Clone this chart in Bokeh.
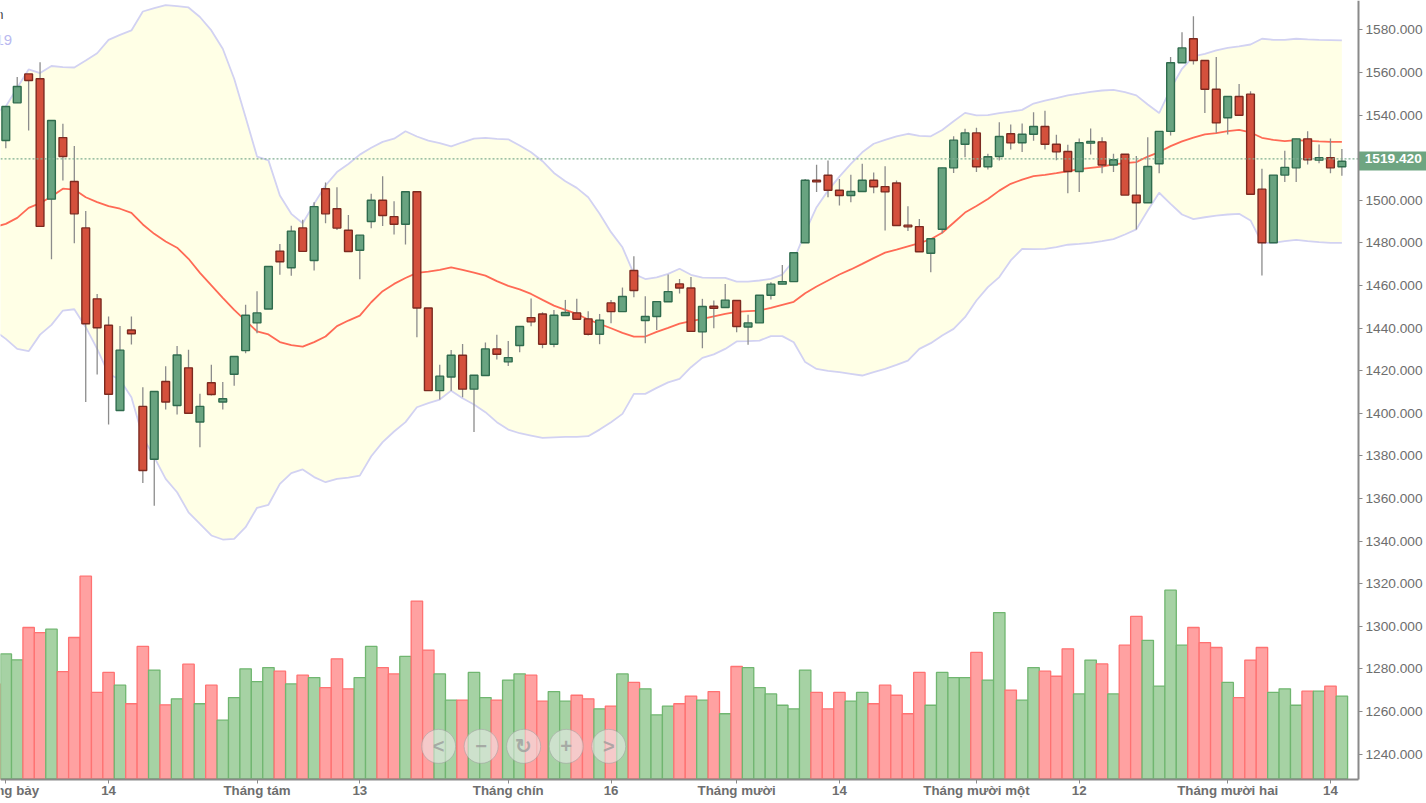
from bokeh.plotting import figure
from bokeh.core.properties import value
from bokeh.models import Range1d, FixedTicker, Label, NumeralTickFormatter, ColumnDataSource
from bokeh.embed import file_html
from bokeh.resources import INLINE

open_ = [1528,1545.7,1559.3,1557,1500.5,1529.4,1508.8,1487,1453.7,1441.3,
         1401.3,1439.1,1403.2,1378.4,1414.9,1403.6,1421.3,1395.9,1414.3,1405.3,
         1418.3,1429.4,1442.4,1448.9,1476.1,1468.3,1487,1471.7,1505.4,1496,
         1485.9,1476.5,1490,1500,1492.3,1488.7,1504,1449.4,1410.6,1417,
         1427.2,1411.3,1417.7,1430.2,1424.1,1431.8,1444.9,1446.6,1432.4,1445.9,
         1447.1,1444.3,1437.1,1451.8,1447.7,1467,1443.5,1445.4,1452.3,1460.7,
         1458.8,1438.2,1450.2,1449.6,1452.9,1440.5,1442.4,1455.4,1460.6,1461.8,
         1480,1509.4,1511.7,1504.7,1502.2,1504.1,1509.4,1506.4,1508.1,1488.3,
         1487.6,1475.1,1486.4,1515.2,1526.3,1531.6,1515.7,1520.5,1531.2,1527,
         1531,1534.6,1526.3,1522.9,1513.5,1526.8,1527.4,1516.5,1521.6,1502.4,
         1498.8,1517.1,1532.3,1564.5,1575.8,1565.6,1552.1,1538.7,1548.7,1549.8,
         1505.2,1480,1511.8,1515.2,1528.8,1518.8,1519.9,1515.7]
close = [1544,1553.4,1556.2,1487.7,1537.4,1520.5,1493.6,1442,1440.1,1408.9,
         1429.6,1437.3,1373.1,1410.2,1405.3,1427.3,1400,1403.2,1408.8,1406.8,
         1426.6,1446,1447.1,1468.9,1471.1,1485.5,1476,1497,1493.6,1486.9,
         1475.9,1483.6,1500,1492.8,1488.7,1504,1449.4,1410.6,1417.4,1427.2,
         1411.3,1417.8,1430.2,1427.7,1426.1,1440.7,1442.9,1432.4,1446,1447.3,
         1444.1,1437.1,1443.7,1447.7,1454.8,1457.6,1445.4,1452.4,1457.1,1458.8,
         1438.4,1450.1,1449.3,1453.1,1440.7,1442.4,1455.4,1460.6,1461.8,1475.3,
         1509.4,1508.6,1504.7,1502.2,1504.1,1509.4,1506.3,1503.9,1488.1,1487.5,
         1475.8,1481.9,1515.2,1528.2,1531.6,1515.7,1520.4,1529.9,1526.9,1531,
         1534.6,1526.3,1522.7,1513.5,1527,1527.6,1516.5,1519,1502.4,1498.8,
         1515.8,1532.3,1564.5,1571.5,1565.6,1552.1,1536.3,1548.7,1539.9,1502.8,
         1480,1511.8,1515.4,1528.8,1519,1519.9,1515.2,1518.3]
high = [1544,1557.8,1559.3,1564.8,1537.4,1535.9,1525.5,1494.9,1456,1445.4,
        1440.9,1445.4,1412.2,1410.2,1422.1,1431.6,1429.8,1409.1,1422.7,1414.6,
        1426.6,1450.9,1457.3,1469,1479.5,1488,1490.8,1499.1,1508.3,1506.1,
        1493.1,1483.6,1503,1511.3,1499.5,1504,1504,1449.4,1422.7,1429.7,
        1432.5,1417.8,1433.2,1436.8,1433.9,1440.7,1453.8,1447.4,1448.5,1453.2,
        1453.7,1447.9,1446.6,1453.2,1459,1473.7,1454.9,1452.4,1465.1,1463,
        1463.9,1453.7,1452.9,1460.7,1452.9,1446.2,1455.4,1461.5,1469.6,1475.3,
        1510,1516.6,1518.6,1510,1511.9,1517.1,1513,1516,1509.2,1497.2,
        1491.2,1481.9,1515.2,1530,1533.5,1534,1521.8,1536.6,1535.5,1536,
        1541.3,1542,1530.7,1526,1529,1533.7,1529.6,1521.8,1521.6,1520.7,
        1529.6,1532.3,1567.2,1578.9,1586.4,1565.6,1567.2,1548.7,1554.6,1551.2,
        1514.8,1511.8,1523.2,1528.8,1532.4,1526.2,1529,1524.1]
low = [1524.4,1545.7,1532.7,1487.7,1472.3,1509.3,1479.8,1405.3,1418.2,1394.7,
       1401.3,1432.3,1367.2,1356.5,1401.7,1399.4,1400,1384,1408.3,1401.7,
       1412.9,1428.2,1437.6,1448.9,1465,1464.5,1476,1467,1489.2,1486,
       1475.9,1462.9,1486.8,1487.9,1483.9,1479.2,1435.7,1410.6,1406.4,1410.6,
       1407.5,1391.2,1417.7,1425.2,1422.2,1428.6,1440.8,1430.5,1431,1445.9,
       1444.1,1436.5,1432.4,1442.2,1447.7,1454.5,1432.9,1439.1,1452.3,1456.2,
       1438.4,1430.5,1439.9,1449.6,1438,1432.2,1442.4,1453.4,1460.6,1461.8,
       1480,1503.8,1501.4,1497.5,1499.1,1504.1,1503.3,1485.8,1488.1,1485.5,
       1475.8,1466.2,1484.5,1512.8,1520.2,1513.3,1514.4,1518.6,1523.8,1522.6,
       1527.9,1523.8,1518.8,1503.3,1503.9,1521.5,1512.7,1513.2,1502.4,1486.3,
       1498.8,1512.7,1530.4,1564.5,1563.7,1540.9,1531.5,1530.9,1539.9,1502.8,
       1464.7,1480,1508.6,1508.6,1516.8,1517.4,1512.7,1511.5]

# Bollinger bands, first value belongs to the session just left of the view
band_upper = [1540.6,1544,1552.8,1561.4,1559.7,1563,1562.5,1562.3,1565.6,1569,
              1575.3,1577.6,1579.7,1588.6,1590.2,1591.6,1591.1,1590.5,1586,1579.7,
              1571.1,1557,1539,1520.5,1518.7,1502.2,1493.6,1489.2,1498.3,1506.9,
              1513.2,1517,1521.4,1524.6,1527.4,1528.9,1532.4,1529.9,1528,1526.8,
              1525.3,1527.2,1528.9,1529.3,1528.8,1528.6,1525.7,1522.5,1518.3,1512.8,
              1508.9,1505.8,1501.4,1493.6,1485,1477.9,1465.4,1463,1463.8,1465.4,
              1467.8,1465,1463.7,1463.5,1463.5,1461.8,1461.8,1462.3,1463.1,1465.1,
              1471.7,1485,1496.7,1504.5,1511.1,1517.1,1522.5,1526.5,1528.3,1530,
              1531.2,1530.2,1530,1533,1537.1,1541,1539.8,1539.9,1540.9,1541.6,
              1542.4,1545.4,1546.8,1547.9,1549.2,1550,1550.9,1551.5,1551.8,1550.7,
              1549.2,1544.9,1540.9,1552.3,1561.7,1567.5,1568.7,1570.3,1571.5,1572.2,
              1573.1,1575.8,1575.3,1575.3,1575.8,1575.5,1575.3,1575.2,1575]
band_mid = [1487.4,1488.9,1491.7,1496.4,1498.6,1501.7,1505.4,1505,1501.4,1499.1,
            1497.2,1496,1494.1,1488.6,1484.2,1480.6,1477.7,1472.5,1465.9,1460,
            1454.2,1448.5,1443.5,1438.4,1437,1433.4,1432,1431.3,1433.4,1436,
            1440.9,1443.5,1445.8,1452.1,1457.3,1460.7,1463.5,1465.9,1466.5,1467.3,
            1468.5,1467.3,1466,1464.6,1462,1459.8,1458.1,1456,1453.2,1450.5,
            1448.5,1446.6,1444,1441.9,1439.9,1437.7,1436,1436,1438.2,1440.1,
            1442.1,1443.2,1444.3,1445.5,1446.6,1447.6,1447.9,1448.2,1449.5,1450.9,
            1452.3,1456.3,1459.5,1462.3,1465.1,1467.5,1470.1,1472.8,1475.4,1476.8,
            1478.3,1479.8,1481.7,1484.7,1489.4,1494.2,1497.3,1500.6,1504.5,1507.7,
            1509.7,1511.3,1511.9,1512.7,1513.6,1514.6,1515.2,1515.8,1516.8,1517.4,
            1517.9,1520.5,1522.6,1525.4,1527.6,1529.4,1530.9,1531.5,1532.4,1533,
            1531.8,1529.3,1528.3,1527.7,1528.2,1527.9,1527.6,1527.4,1527.4]
band_lower = [1438.8,1434.9,1430.2,1429.1,1436.9,1441.5,1448.2,1448.8,1440.4,1430.2,
              1418.5,1415.7,1407.5,1388.8,1379.4,1369.2,1362.9,1353.5,1348,1342.6,
              1340.7,1341,1346.5,1355.6,1357,1366.8,1371.9,1373.6,1370,1367.6,
              1369.2,1369.8,1370.7,1379.8,1386.4,1391.4,1395.8,1402.8,1404.7,1406.4,
              1410.6,1407,1404.1,1400.5,1395.8,1392.3,1390.6,1389.5,1388.4,1388.7,
              1388.9,1388.9,1389.2,1392.3,1395.8,1399.7,1409.1,1409.1,1411.9,1414.5,
              1416.1,1421.6,1426,1427.6,1430.2,1433.7,1433.8,1434.1,1436.2,1436.2,
              1433.3,1424,1420.8,1419.9,1419.3,1418.5,1417.7,1419.3,1420.8,1422.7,
              1424.7,1430.2,1432.9,1436.5,1439.6,1445.1,1452.9,1459.2,1463.9,1471.7,
              1477.2,1477,1477.2,1478,1479.1,1479.5,1480,1480.8,1481.7,1483.9,
              1486.3,1495.2,1503.5,1498.3,1493.3,1491.1,1492,1492.8,1493.3,1493.6,
              1490.5,1480,1480,1480.8,1481.4,1480.8,1480.3,1480,1480]

# Volume pane top of each bar as read on the shared right-hand scale
vol_prior = 1272.9
volume = [1287,1284.2,1299.4,1297,1298.6,1278.7,1294.7,1323.5,1268.9,1278.3,
          1272.3,1263.6,1290.5,1279.4,1263.1,1265.9,1282.2,1263.6,1272.3,1255.9,
          1266.5,1280,1274,1280.6,1278.9,1272.9,1277,1275.9,1271.2,1284.7,
          1270.6,1275.9,1290.5,1280.6,1277.6,1285.8,1311.8,1288.8,1277.6,1265.3,
          1265.3,1278.3,1266.5,1265.3,1274.7,1277.6,1277,1264.8,1269.3,1264.8,
          1267.6,1265.9,1261.2,1262.5,1277.6,1273.6,1270.6,1258.4,1262.5,1263.6,
          1267.2,1265.3,1269.3,1258.9,1281.1,1280.6,1271.2,1268.2,1262.9,1261.2,
          1279.4,1268.9,1261.2,1268.9,1264.8,1268.9,1263.6,1272.3,1267.6,1258.9,
          1278.3,1262.9,1278.3,1275.9,1275.9,1287.7,1274.7,1306.4,1270,1265.3,
          1280.6,1278.9,1276.5,1289.4,1268.2,1284.1,1282.3,1268.2,1291.1,1304.6,
          1293.4,1271.9,1316.9,1291.1,1299.4,1292.3,1290,1273.6,1266.5,1284.1,
          1290,1268.9,1270.6,1262.9,1269.5,1269.5,1271.9,1267.2]

x_tick_index = [0, 9, 22, 31, 44, 53, 64, 73, 85, 94, 107, 116]
x_tick_labels = ["Tháng bảy", "14", "Tháng tám", "13", "Tháng chín", "16",
                 "Tháng mười", "14", "Tháng mười một", "12", "Tháng mười hai", "14"]
y_ticks = [1240, 1260, 1280, 1300, 1320, 1340, 1360, 1380, 1400, 1420, 1440,
           1460, 1480, 1500, 1540, 1560, 1580]
last_price = 1519.42
nav_glyphs = ["<", "−", "↻", "+", ">"]

FONT = "Liberation Sans"
AXIS_COLOR = "#8a8a8a"
TEXT_COLOR = "#6e6e6e"
# The canvas is all frame; the axes sit inside it, so the price tag and the
# first month label can run past the plot area as they do in the reference.
PANE_X0, PANE_X1 = -0.464, 118.45
PANE_Y0, PANE_Y1 = 1228.27, 1593.76
CANVAS_X1, CANVAS_Y0 = 124.41, 1216.77
idx = list(range(len(open_)))
band_idx = [-1] + idx
up = [c >= o for o, c in zip(open_, close)]

p = figure(width=1426, height=803, output_backend="svg", toolbar_location=None,
           x_range=Range1d(PANE_X0, CANVAS_X1), y_range=Range1d(CANVAS_Y0, PANE_Y1),
           y_axis_location="right",
           min_border=0, outline_line_color=None,
           background_fill_color="white", border_fill_color="white", margin=0)
p.grid.visible = False

# Bollinger band
p.varea(band_idx, band_lower, band_upper, fill_color="#ffffe6")

# Volume
vol_red, vol_green = "#ffa1a1", "#a6d2a4"
vol_src = ColumnDataSource(dict(
    x=band_idx, top=[vol_prior] + volume,
    fill=[vol_red] + [vol_green if u else vol_red for u in up],
    line=["#ff7272"] + ["#70b670" if u else "#ff7272" for u in up]))
p.vbar(x="x", top="top", bottom=PANE_Y0, width=1.0, source=vol_src,
       fill_color="fill", line_color="line", line_width=1.3)

p.line(band_idx, band_upper, line_color="#d2d2f2", line_width=1.8)
p.line(band_idx, band_lower, line_color="#d2d2f2", line_width=1.8)
p.line(band_idx, band_mid, line_color="#ff6a55", line_width=1.8)

# Candles
p.segment(idx, low, idx, high, line_color="#8c8c8c", line_width=1.3)
body = ColumnDataSource(dict(
    x=idx,
    top=[max(o, c) for o, c in zip(open_, close)],
    bottom=[min(o, c) for o, c in zip(open_, close)],
    fill=["#68a380" if u else "#d4503c" for u in up],
    line=["#2f6b4d" if u else "#7c2a20" for u in up]))
p.vbar(x="x", top="top", bottom="bottom", width=0.68, source=body,
       fill_color="fill", line_color="line", line_width=1.4)

# Last price: dotted level, then the tag on the axis
p.line([PANE_X0, PANE_X1], [last_price, last_price], line_color="#7fae92",
       line_width=1.2, line_dash=[2, 2])

# Axes
xa = p.xaxis[0]
xa.fixed_location = PANE_Y0
xa.bounds = (PANE_X0, PANE_X1)
xa.ticker = FixedTicker(ticks=x_tick_index)
xa.major_label_overrides = {**dict(zip(x_tick_index, x_tick_labels)), x_tick_index[0]: ""}
xa.major_label_text_font = FONT
xa.major_label_text_font_size = "13.3px"
xa.major_label_text_font_style = "bold"
xa.major_label_text_color = TEXT_COLOR
xa.axis_line_color = AXIS_COLOR
xa.axis_line_width = 2
xa.major_tick_line_color = AXIS_COLOR
xa.major_tick_in = 0
xa.major_tick_out = 4
xa.minor_tick_line_color = None
xa.major_label_standoff = 0

ya = p.yaxis[0]
ya.fixed_location = PANE_X1
ya.bounds = (PANE_Y0, PANE_Y1)
ya.ticker = FixedTicker(ticks=y_ticks)
ya.formatter = NumeralTickFormatter(format="0.000")
ya.major_label_text_font = FONT
ya.major_label_text_font_size = "13.7px"
ya.major_label_text_color = TEXT_COLOR
ya.axis_line_color = AXIS_COLOR
ya.axis_line_width = 2
ya.major_tick_line_color = AXIS_COLOR
ya.major_tick_in = 0
ya.major_tick_out = 4
ya.minor_tick_line_color = None
ya.major_label_standoff = 3

# First month label is centred on its tick and runs off the left edge
p.text([x_tick_index[0]], [1223.0], text=[x_tick_labels[0]], text_color=TEXT_COLOR,
       text_font=value(FONT), text_font_size=value("13.3px"), text_font_style="bold",
       text_align="center", text_baseline="middle")

# Price tag
p.quad(left=[PANE_X1], right=[CANVAS_X1], top=[1522.86], bottom=[1513.95],
       fill_color="#6ea581", line_color=None)
p.text([121.5], [last_price], text=[f"{last_price:.3f}"], text_color="white",
       text_font=value(FONT), text_font_style="bold", text_font_size=value("13.7px"),
       text_align="center", text_baseline="middle")

# Clipped legend remnants at the top-left corner
p.add_layout(Label(x=-0.2, y=1587, text="n", text_color="#444444", text_font=FONT,
                   text_font_size="13px", text_align="right", text_baseline="middle"))
p.add_layout(Label(x=0.55, y=1575.3, text="19", text_color="#b9b9f0", text_font=FONT,
                   text_font_size="15px", text_align="right", text_baseline="middle"))

# Navigation buttons floating on the chart
nav_x = [37.9 + 3.725 * k for k in range(len(nav_glyphs))]
nav_y = [1243.6] * len(nav_glyphs)
nav_src = ColumnDataSource(dict(x=nav_x, y=nav_y, t=nav_glyphs))
p.scatter("x", "y", source=nav_src, size=34, marker="circle", fill_color="#ececec",
          fill_alpha=0.55, line_color="#a0a0a0", line_alpha=0.55, line_width=1)
p.text("x", "y", text="t", source=nav_src, text_color="#999999", text_alpha=0.75,
       text_font=value(FONT), text_font_size=value("20px"), text_font_style="bold",
       text_align="center", text_baseline="middle")

open("out.html", "w").write(file_html(p, INLINE))
